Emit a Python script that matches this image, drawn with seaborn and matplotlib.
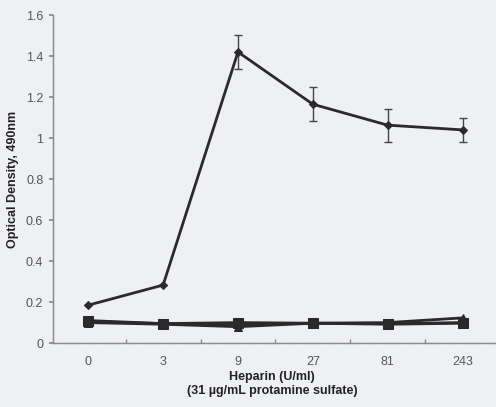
import matplotlib
matplotlib.use("Agg")
import matplotlib.pyplot as plt
import seaborn as sns
import numpy as np
import pandas as pd
from matplotlib.ticker import FixedLocator

categories = ["0", "3", "9", "27", "81", "243"]
heparin_od = [0.185, 0.283, 1.42, 1.165, 1.063, 1.04]
heparin_err = [0.0, 0.0, 0.085, 0.083, 0.08, 0.06]
control_a = [0.11, 0.095, 0.10, 0.097, 0.092, 0.097]
control_b = [0.10, 0.092, 0.08, 0.097, 0.10, 0.123]
control_c = [0.105, 0.095, 0.092, 0.097, 0.095, 0.10]

sns.set_theme(style="white")
plt.rcParams['font.family'] = ['Liberation Sans', 'DejaVu Sans']

bg = "#eef0f3"
ink = "#2a2a2a"
fig = plt.figure(figsize=(4.96, 4.07), dpi=100, facecolor=bg)
ax = fig.add_axes([0.107, 0.157, 0.901, 0.806])
ax.set_facecolor(bg)

x = np.arange(len(categories))
df = pd.DataFrame({"x": np.tile(x, 4),
                   "od": heparin_od + control_a + control_b + control_c,
                   "series": ["hep"] * 6 + ["a"] * 6 + ["b"] * 6 + ["c"] * 6})

markers = {"hep": "D", "a": "s", "b": "^", "c": "s"}
sizes = {"hep": 4.5, "a": 7, "b": 6, "c": 6}
for s in ["a", "b", "c", "hep"]:
    sub = df[df.series == s]
    sns.lineplot(data=sub, x="x", y="od", ax=ax, color=ink, lw=2.0,
                 marker=markers[s], markersize=sizes[s], markeredgecolor=ink,
                 legend=False, zorder=3)

ax.errorbar(x, heparin_od, yerr=heparin_err, fmt="none", ecolor="#444444",
            elinewidth=1.0, capsize=3, capthick=1.0, zorder=2)

ax.set_xlim(-0.47, 5.5)
ax.set_ylim(0, 1.6)
ax.set_xticks(x)
ax.set_xticklabels(categories)
ax.xaxis.set_minor_locator(FixedLocator(np.arange(-0.5, 5.6, 1.0)))
ax.tick_params(axis="x", which="major", length=0, pad=9, labelsize=9, colors="#555555")
ax.tick_params(axis="x", which="minor", length=3, direction="in", color="#888888", bottom=True)
yt = np.arange(0, 1.61, 0.2)
ax.set_yticks(yt)
ax.set_yticklabels(["0" if v == 0 else ("1" if abs(v - 1) < 1e-9 else f"{v:g}") for v in yt])
ax.tick_params(axis="y", length=3, direction="out", color="#888888", left=True,
               labelsize=9, pad=4)
for lab in ax.get_yticklabels():
    lab.set_color("#555555")

for side in ["top", "right"]:
    ax.spines[side].set_visible(False)
for side in ["left", "bottom"]:
    ax.spines[side].set_color("#8a8a8a")
    ax.spines[side].set_linewidth(1.0)
    ax.spines[side].set_linestyle((0, (1, 0.6)))

ax.set_xlabel("Heparin (U/ml)\n(31 µg/mL protamine sulfate)", fontsize=9,
              fontweight="bold", color="#222222", linespacing=1.25)
ax.xaxis.set_label_coords(0.49, -0.085)
ax.set_ylabel("Optical Density, 490nm", fontsize=9, fontweight="bold",
              color="#222222", labelpad=5)

fig.savefig("out.png", dpi=100, facecolor=bg)
